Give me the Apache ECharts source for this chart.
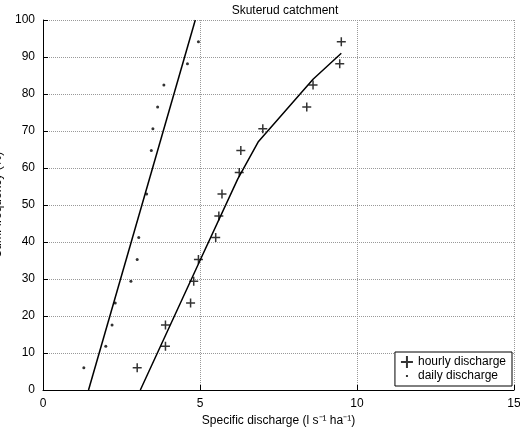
<!DOCTYPE html><html><head><meta charset="utf-8"><script src="https://cdn.jsdelivr.net/npm/echarts@6/dist/echarts.min.js"></script></head><body style="margin:0"><div id="c" style="width:520px;height:430px"></div><script>
const hourly=[[3.0,6],[3.9,11.8],[3.9,17.6],[4.7,23.5],[4.8,29.4],[4.95,35.3],[5.5,41.2],[5.6,47],[5.7,53],[6.25,58.8],[6.3,64.7],[7.0,70.6],[8.4,76.5],[8.6,82.4],[9.45,88.2],[9.5,94.1]];
const daily=[[1.3,6],[2.0,11.8],[2.2,17.6],[2.3,23.5],[2.8,29.4],[3.0,35.3],[3.05,41.2],[3.3,53],[3.45,64.7],[3.5,70.6],[3.65,76.5],[3.85,82.4],[4.6,88.2],[4.95,94.1]];
const dailyFit=[[1.45,0],[4.85,100]];
const hourlyFit=[[3.1,0],[5.0,35],[6.2,57],[6.85,67],[8.6,84],[9.5,91]];
const f='Liberation Sans';
const c=echarts.init(document.getElementById('c'));
c.setOption({animation:false,
title:{text:'Skuterud catchment',left:280,top:0,textAlign:'center',textStyle:{fontSize:12,fontWeight:'normal',fontFamily:f,color:'#000'}},
grid:{left:43,right:6,top:20,bottom:40,outerBoundsMode:'none',containLabel:false},
xAxis:{type:'value',min:0,max:15,interval:5,name:'Specific discharge (l s⁻¹ ha⁻¹)',nameLocation:'middle',nameGap:22,nameTextStyle:{fontSize:12,fontFamily:f,color:'#000'},axisLine:{lineStyle:{color:'#000'}},axisTick:{inside:true,lineStyle:{color:'#000'}},axisLabel:{fontSize:12,fontFamily:f,color:'#000'},splitLine:{lineStyle:{type:'dotted',color:'#999'}}},
yAxis:{type:'value',min:0,max:100,interval:10,name:'Cum. frequency (%)',nameLocation:'middle',nameGap:28,nameTextStyle:{fontSize:12,fontFamily:f,color:'#000'},axisLine:{lineStyle:{color:'#000'}},axisTick:{inside:true,lineStyle:{color:'#000'}},axisLabel:{fontSize:12,fontFamily:f,color:'#000'},splitLine:{lineStyle:{type:'dotted',color:'#999'}}},
legend:{orient:'vertical',right:8,bottom:44,backgroundColor:'#fff',borderColor:'#000',borderWidth:1,padding:[4,6],itemGap:2,itemWidth:12,itemHeight:12,textStyle:{fontSize:12,fontFamily:f,color:'#000'},
data:[{name:'hourly discharge',icon:'path://M5 0H7V5H12V7H7V12H5V7H0V5H5Z'},{name:'daily discharge',icon:'path://M0 0L0.01 0L0 0.01ZM12 12L11.99 12L12 11.99ZM5 5H7V7H5Z'}]},
series:[
{name:'hourly discharge',type:'scatter',data:hourly,symbol:'path://M5 0H7V5H12V7H7V12H5V7H0V5H5Z',symbolSize:9,itemStyle:{color:'#000'}},
{name:'daily discharge',type:'scatter',data:daily,symbol:'circle',symbolSize:3,itemStyle:{color:'#000'}},
{type:'line',data:dailyFit,showSymbol:false,lineStyle:{color:'#000',width:1.5}},
{type:'line',data:hourlyFit,showSymbol:false,lineStyle:{color:'#000',width:1.5}}
]});
</script></body></html>
